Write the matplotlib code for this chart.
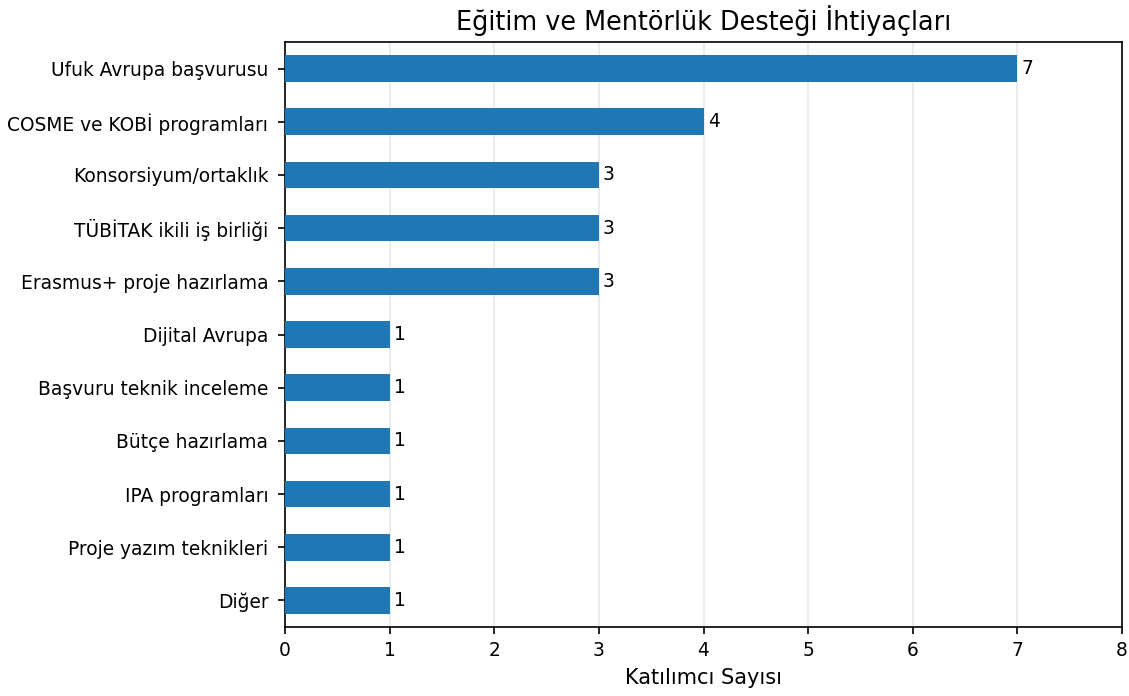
import matplotlib
matplotlib.use("Agg")
import matplotlib.pyplot as plt

plt.rcParams['font.family'] = ['DejaVu Sans']

# data (top to bottom as shown)
categories = ["Ufuk Avrupa başvurusu", "COSME ve KOBİ programları", "Konsorsiyum/ortaklık",
              "TÜBİTAK ikili iş birliği", "Erasmus+ proje hazırlama", "Dijital Avrupa",
              "Başvuru teknik inceleme", "Bütçe hazırlama", "IPA programları",
              "Proje yazım teknikleri", "Diğer"]
counts = [7, 4, 3, 3, 3, 1, 1, 1, 1, 1, 1]

fig = plt.figure(figsize=(11.29, 6.96), dpi=100)
ax = fig.add_axes([285/1129, 1 - 627/696, (1122-285)/1129, (627-42)/696])

labels = categories[::-1]
vals = counts[::-1]
bars = ax.barh(labels, vals, height=0.5, color="#1f77b4", zorder=3)
ax.bar_label(bars, padding=3, fontsize=13.4)

ax.set_xlim(0, 8)
ax.set_ylim(-0.5, len(labels) - 0.5)
ax.grid(axis="x", alpha=0.3, linewidth=1.2, zorder=0)
ax.tick_params(labelsize=13.4, length=5, width=1.2, pad=5)
ax.tick_params(axis="y", pad=7)
for s in ax.spines.values():
    s.set_linewidth(1.2)
ax.set_xlabel("Katılımcı Sayısı", fontsize=15, labelpad=6)
ax.set_title("Eğitim ve Mentörlük Desteği İhtiyaçları", fontsize=18.4, pad=9)

fig.savefig("out.png", dpi=100)
